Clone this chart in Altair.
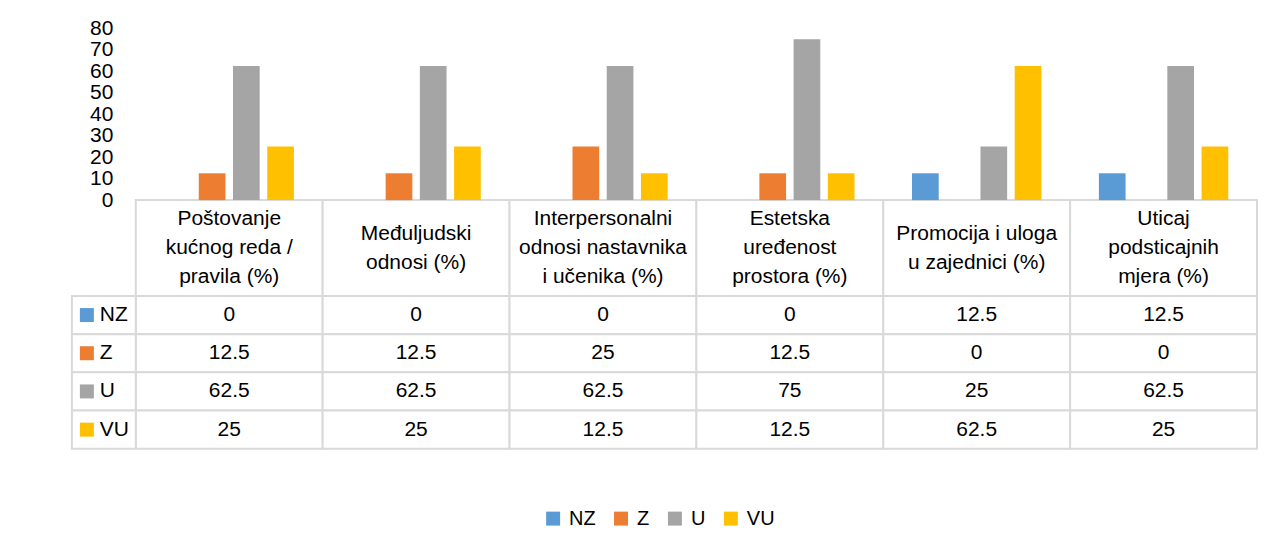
import altair as alt
import pandas as pd

# ---- data ----
categories = [
    "Poštovanje kućnog reda / pravila (%)",
    "Međuljudski odnosi (%)",
    "Interpersonalni odnosi nastavnika i učenika (%)",
    "Estetska uređenost prostora (%)",
    "Promocija i uloga u zajednici (%)",
    "Uticaj podsticajnih mjera (%)",
]
header_lines = [
    ["Poštovanje", "kućnog reda /", "pravila (%)"],
    ["Međuljudski", "odnosi (%)"],
    ["Interpersonalni", "odnosi nastavnika", "i učenika (%)"],
    ["Estetska", "uređenost", "prostora (%)"],
    ["Promocija i uloga", "u zajednici (%)"],
    ["Uticaj", "podsticajnih", "mjera (%)"],
]
series = ["NZ", "Z", "U", "VU"]
colors = ["#5B9BD5", "#ED7D31", "#A5A5A5", "#FFC000"]
nz = [0, 0, 0, 0, 12.5, 12.5]
z = [12.5, 12.5, 25, 12.5, 0, 0]
u = [62.5, 62.5, 62.5, 75, 25, 62.5]
vu = [25, 25, 12.5, 12.5, 62.5, 25]
y_ticks = [0, 10, 20, 30, 40, 50, 60, 70, 80]

values = {"NZ": nz, "Z": z, "U": u, "VU": vu}
rows = []
for s in series:
    for c, v in zip(categories, values[s]):
        rows.append({"cat": c, "series": s, "value": v, "label": f"{v:g}"})
df = pd.DataFrame(rows)

head_df = pd.DataFrame({"cat": categories, "row": "hdr"})
line_rows = []
for c, lines in zip(categories, header_lines):
    n = len(lines)
    for i, t in enumerate(lines):
        line_rows.append({"cat": c, "text": t, "pos": i - (n - 1) / 2})
lines_df = pd.DataFrame(line_rows)
lab_df = pd.DataFrame({"series": series, "col": "lab"})

# ---- layout / style ----
FONT = "Liberation Sans"
FS = 21
GRID = "#D9D9D9"
W = 1123
LW = 64
LINE_H = 29
H_BAR, H_HEAD, H_TAB = 172, 96, 153
H = H_BAR + H_HEAD + H_TAB

bar_range = [H_BAR, 0]
head_range = [H_BAR, H_BAR + H_HEAD]
head_mid = H_BAR + H_HEAD / 2
line_range = [head_mid - 1.5 * LINE_H, head_mid + 1.5 * LINE_H]
tab_range = [H_BAR + H_HEAD, H]

xcat = alt.X("cat:N", sort=categories, axis=None,
             scale=alt.Scale(domain=categories, paddingInner=0, paddingOuter=0))
color = alt.Color(
    "series:N", sort=series,
    scale=alt.Scale(domain=series, range=colors),
    legend=alt.Legend(
        orient="none", legendX=408, legendY=481, direction="horizontal",
        title=None, symbolType="square", symbolSize=196, symbolStrokeWidth=0,
        labelFontSize=20, labelFont=FONT, labelColor="#000000",
        labelOffset=6, columnPadding=15,
    ),
)
yrow = alt.Y("series:N", sort=series, axis=None,
             scale=alt.Scale(domain=series, range=tab_range, paddingInner=0, paddingOuter=0))

bars = alt.Chart(df).mark_bar().encode(
    x=xcat,
    xOffset=alt.XOffset("series:N", sort=series,
                        scale=alt.Scale(domain=series, paddingInner=0.22, paddingOuter=0.84)),
    y=alt.Y("value:Q", scale=alt.Scale(domain=[0, 80], range=bar_range),
            axis=alt.Axis(values=y_ticks, title=None, domain=False, ticks=False,
                          labelFontSize=FS, labelFont=FONT, labelPadding=23,
                          labelColor="#000000", labelOverlap=False,
                          gridColor=GRID, gridWidth=2)),
    color=color,
)

yhead = alt.Y("row:N", axis=None,
              scale=alt.Scale(range=head_range, paddingInner=0, paddingOuter=0))
head_rect = alt.Chart(head_df).mark_rect(fill="white", stroke=GRID, strokeWidth=2).encode(
    x=xcat, y=yhead)
head_text = alt.Chart(lines_df).mark_text(fontSize=FS, font=FONT, color="#000000").encode(
    x=xcat,
    y=alt.Y("pos:Q", axis=None, scale=alt.Scale(domain=[-1.5, 1.5], range=line_range)),
    text="text:N",
)

tab_base = alt.Chart(df).encode(x=xcat, y=yrow)
tab_rect = tab_base.mark_rect(fill="white", stroke=GRID, strokeWidth=2)
tab_text = tab_base.mark_text(fontSize=FS, font=FONT, color="#000000").encode(text="label:N")

xlab = alt.X("col:N", axis=None,
             scale=alt.Scale(range=[-LW, 0], paddingInner=0, paddingOuter=0))
lab_base = alt.Chart(lab_df).encode(x=xlab, y=yrow)
lab_rect = lab_base.mark_rect(fill="white", stroke=GRID, strokeWidth=2)
lab_sq = lab_base.mark_square(size=196, xOffset=-17, opacity=1, strokeWidth=0).encode(color=color)
lab_text = lab_base.mark_text(fontSize=FS, font=FONT, color="#000000", align="left",
                              dx=-4).encode(text="series:N")

chart = alt.layer(
    head_rect, tab_rect, lab_rect, head_text, tab_text, lab_sq, lab_text, bars
).resolve_scale(
    x="independent", y="independent"
).properties(
    width=W, height=H,
    padding={"left": 63, "top": 9, "right": 0, "bottom": 10},
).configure_view(stroke=None)

chart.save("out.html", embed_options={"renderer": "svg", "actions": False})
